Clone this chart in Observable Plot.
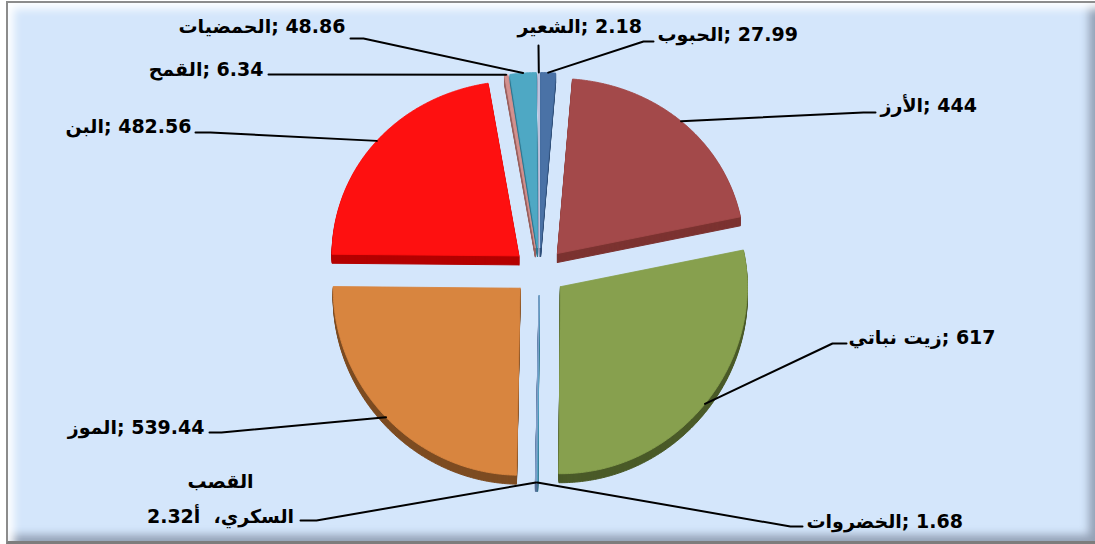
<!DOCTYPE html>
<html>
<head>
<meta charset="utf-8">
<script src="https://cdn.jsdelivr.net/npm/d3@7"></script>
<script src="https://cdn.jsdelivr.net/npm/@observablehq/plot@0.6"></script>
<style>
  html, body { margin: 0; padding: 0; background: #ffffff; }
  #frame {
    position: absolute; left: 6px; top: 1px; width: 1089px; height: 543px;
    box-sizing: border-box;
    border-top: 2px solid #8c8c8c; border-left: 2px solid #8c8c8c; border-bottom: 3px solid #7d7d7d;
    background: #d4e6fb;
    box-shadow: inset 9px 9px 8px -3px rgba(255,255,255,0.95), inset -9px -9px 8px -3px rgba(105,115,135,0.6);
  }
  #chart { position: absolute; left: 0; top: 0; }
</style>
</head>
<body>
<div id="frame"></div>
<div id="chart"></div>
<script>
// ---- data ----
const categories = ["الحبوب", "الأرز", "زيت نباتي", "الخضروات", "القصب السكري", "الموز", "البن", "القمح", "الحمضيات", "الشعير"];
const values = [27.99, 444, 617, 1.68, 2.32, 539.44, 482.56, 6.34, 48.86, 2.18];
const valueLabels = ["27.99", "444", "617", "1.68", "2.32", "539.44", "482.56", "6.34", "48.86", "2.18"];

// ---- styles ----
const topColors  = ["#4a72a6", "#a3494a", "#87a04e", "#4aa6c4", "#7f9fc8", "#d8853f", "#fe1010", "#d4918f", "#4ea8c4", "#c2c8e2"];
const sideColors = ["#30507a", "#7c3331", "#4a5a28", "#2f7388", "#55709a", "#7d4c22", "#b40000", "#9a6260", "#2f7890", "#8890b0"];

// ---- layout ----
const W = 1095, H = 544;
const CX = 539, CY = 271;          // pie centre
const R = 187, RBACK = 175;        // horizontal radius, vertical radius front/back (perspective)
const EXPX = 27, EXPY = 24;        // explosion offset
const DEPTH = 9;                   // 3D thickness
const NAME_SIZE = 19, NUM_SIZE = 19;
const labelLayout = [
  {x: 657, y: 40,  anchor: "start",  elbow: [[653, 41], [643, 41]]},
  {x: 880, y: 111, anchor: "start",  elbow: [[875, 112], [863, 112]]},
  {x: 848, y: 343, anchor: "start",  elbow: [[846, 343], [832, 343]]},
  {x: 806, y: 527, anchor: "start",  elbow: [[802, 526], [790, 526]]},
  {x: 220, y: 522, anchor: "middle", elbow: [[300, 520], [316, 520]], y1: 487},
  {x: 204, y: 433, anchor: "end",    elbow: [[209, 432], [221, 432]]},
  {x: 191, y: 132, anchor: "end",    elbow: [[195, 132], [210, 132]]},
  {x: 263, y: 75,  anchor: "end",    elbow: [[268, 74], [280, 74]]},
  {x: 345, y: 32,  anchor: "end",    elbow: [[350, 38], [363, 38]]},
  {x: 517, y: 32,  anchor: "start",  elbow: [[538, 45]]}
];

// ---- text measuring (for placing Arabic and numeric parts side by side) ----
const font = '"DejaVu Sans", "Liberation Sans", sans-serif';
const ctx = document.createElement("canvas").getContext("2d");
function measure(s, size) { ctx.font = `bold ${size}px ${font}`; return ctx.measureText(s).width; }

// ---- geometry from data ----
const rows = categories.map((c, i) => ({category: c, value: values[i], top: topColors[i], side: sideColors[i], i}));
const arcs = d3.pie().sort(null).value(d => d.value)(rows);
const ryAt = a => (R + RBACK) / 2 - (R - RBACK) / 2 * Math.cos(a);

const topPts = [], sidePts = [], leaderPts = [], nameRows = [], numRows = [];
arcs.forEach(d => {
  const row = d.data;
  const m = (d.startAngle + d.endAngle) / 2;
  const ox = CX + EXPX * Math.sin(m), oy = CY - EXPY * Math.cos(m);
  const poly = [[ox, oy]];
  const n = Math.max(2, Math.ceil((d.endAngle - d.startAngle) / (Math.PI / 360)));
  for (let k = 0; k <= n; k++) {
    const a = d.startAngle + (d.endAngle - d.startAngle) * k / n;
    poly.push([ox + R * Math.sin(a), oy - ryAt(a) * Math.cos(a)]);
  }
  poly.push([ox, oy]);
  for (let s = DEPTH; s >= 1; s--) {
    poly.forEach(([x, y]) => sidePts.push({key: row.category + "-s" + s, x, y: y + s, fill: row.side}));
  }
  poly.forEach(([x, y]) => topPts.push({key: row.category, x, y, fill: row.top}));

  // leader line: label elbow -> point on the rim at mid angle
  const L = labelLayout[row.i];
  const rim = [ox + R * Math.sin(m), oy - ryAt(m) * Math.cos(m)];
  [...L.elbow, rim].forEach(([x, y]) => leaderPts.push({key: row.category, x, y}));

  // label: visual order  "name; value"  (Arabic part and number drawn as separate runs)
  const v = valueLabels[row.i];
  if (row.category === "القصب السكري") {
    const words = row.category.split(" ");
    nameRows.push({x: L.x, y: L.y1, text: words[0]});
    const arabic = words[1] + "،  أ";
    const nw = measure(v, NUM_SIZE), aw = measure(arabic, NAME_SIZE);
    const x0 = L.x - (nw + aw) / 2;
    numRows.push({x: x0, y: L.y, text: v});
    nameRows.push({x: x0 + nw + aw / 2, y: L.y, text: arabic});
  } else {
    const tail = "; " + v;
    const nw = measure(row.category, NAME_SIZE), tw = measure(tail, NUM_SIZE);
    const total = nw + tw;
    const x0 = L.anchor === "start" ? L.x : L.anchor === "end" ? L.x - total : L.x - total / 2;
    nameRows.push({x: x0 + nw / 2, y: L.y, text: row.category});
    numRows.push({x: x0 + nw, y: L.y, text: tail});
  }
});

const chart = Plot.plot({
  width: W, height: H,
  margin: 0,
  x: {domain: [0, W], range: [0, W], axis: null},
  y: {domain: [0, H], range: [0, H], axis: null},
  color: {type: "identity"},
  style: {background: "transparent", overflow: "visible", whiteSpace: "pre"},
  marks: [
    Plot.line(sidePts, {x: "x", y: "y", z: "key", fill: "fill", stroke: "fill", strokeWidth: 1, curve: "linear"}),
    Plot.line(topPts, {x: "x", y: "y", z: "key", fill: "fill", stroke: "fill", strokeWidth: 0.9, curve: "linear"}),
    Plot.line(leaderPts, {x: "x", y: "y", z: "key", stroke: "#000000", strokeWidth: 2, curve: "linear"}),
    Plot.text(nameRows, {x: "x", y: "y", text: "text", textAnchor: "middle", lineAnchor: "bottom",
      fontSize: NAME_SIZE, fontWeight: "bold", fontFamily: font, fill: "#000000"}),
    Plot.text(numRows, {x: "x", y: "y", text: "text", textAnchor: "start", lineAnchor: "bottom",
      fontSize: NUM_SIZE, fontWeight: "bold", fontFamily: font, fill: "#000000"})
  ]
});
document.getElementById("chart").appendChild(chart);
</script>
</body>
</html>
